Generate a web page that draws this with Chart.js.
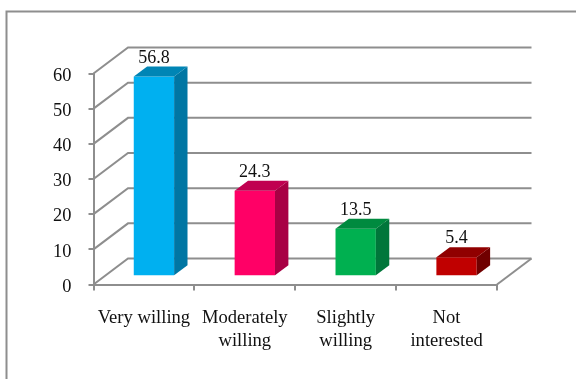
<!DOCTYPE html>
<html><head><meta charset="utf-8">
<style>html,body{margin:0;padding:0;background:#fff}#w{width:576px;height:379px;position:relative}</style>
<script src="https://cdn.jsdelivr.net/npm/chart.js@4"></script>
</head><body><div id="w"><canvas id="c" width="576" height="379"></canvas></div>
<script>
const categories = [["Very willing"], ["Moderately", "willing"], ["Slightly", "willing"], ["Not", "interested"]];
const values = [56.8, 24.3, 13.5, 5.4];
const frontColors = ["#00B0F0", "#FF0066", "#00B050", "#C00000"];
const sideColors = ["#0076A3", "#A80044", "#00763A", "#700000"];
const topColors = ["#0085B5", "#C00050", "#008A3F", "#900000"];
const yMax = 60, yStep = 10;

const GRID = "#8e8e8e", FONT = "'Liberation Serif', 'Times New Roman', serif";
const wall = {dx: 34.5, dy: -26};      // depth of the floor/walls
const bar = {dx: 10, dy: -8.3, sx: 13.4, sy: -10}; // bar placement inside the depth

function line(ctx, pts, w) {
  ctx.beginPath();
  pts.forEach((p, i) => i ? ctx.lineTo(p[0], p[1]) : ctx.moveTo(p[0], p[1]));
  ctx.lineWidth = w; ctx.strokeStyle = GRID; ctx.stroke();
}
function face(ctx, pts, col) {
  ctx.beginPath();
  pts.forEach((p, i) => i ? ctx.lineTo(p[0], p[1]) : ctx.moveTo(p[0], p[1]));
  ctx.closePath(); ctx.fillStyle = col; ctx.fill();
}
const scene = {
  id: "scene",
  beforeDraw(ch) {
    const c = ch.ctx; c.save();
    c.fillStyle = "#fff"; c.fillRect(0, 0, ch.width, ch.height);
    line(c, [[6.5, ch.height + 2], [6.5, 11.5], [ch.width + 2, 11.5]], 2);
    c.restore();
  },
  beforeDatasetsDraw(ch) {
    const c = ch.ctx, a = ch.chartArea, y = ch.scales.y;
    c.save();
    y.ticks.forEach(t => {
      const py = y.getPixelForValue(t.value);
      line(c, [[a.left, py], [a.left + wall.dx, py + wall.dy], [a.right + wall.dx, py + wall.dy]], 2);
    });
    line(c, [[a.right, a.bottom], [a.right + wall.dx, a.bottom + wall.dy]], 2);
    c.restore();
  },
  beforeDatasetDraw(ch) { ch.ctx.save(); ch.ctx.translate(bar.dx, bar.dy); },
  afterDatasetDraw(ch, args) {
    const c = ch.ctx;
    args.meta.data.forEach((el, i) => {
      const p = el.getProps(["x", "y", "base", "width"], true);
      const L = p.x - p.width / 2, R = p.x + p.width / 2, T = p.y, B = p.base;
      face(c, [[R, T], [R + bar.sx, T + bar.sy], [R + bar.sx, B + bar.sy], [R, B]], sideColors[i]);
      face(c, [[L, T], [L + bar.sx, T + bar.sy], [R + bar.sx, T + bar.sy], [R, T]], topColors[i]);
      c.fillStyle = "#111"; c.font = "18px " + FONT;
      c.textAlign = "center"; c.textBaseline = "middle";
      c.fillText(values[i].toFixed(1), p.x, T + bar.sy - 8.5);
    });
    c.restore();
  }
};
new Chart(document.getElementById("c"), {
  type: "bar",
  data: { labels: categories, datasets: [{ data: values, backgroundColor: frontColors, borderWidth: 0,
    barPercentage: 1, categoryPercentage: 0.4, clip: false }] },
  plugins: [scene],
  options: {
    responsive: false, animation: false,
    layout: { padding: { top: 73.5, right: 79, left: 0, bottom: 0 } },
    plugins: { legend: { display: false }, title: { display: false }, tooltip: { enabled: false } },
    scales: {
      x: {
        afterFit(s) { s.height = 94.5; },
        grid: { drawOnChartArea: false, color: GRID, lineWidth: 2, tickLength: 6, offset: true },
        border: { color: GRID, width: 2 },
        ticks: { color: "#111", font: { family: FONT, size: 18.6, lineHeight: 1.19 }, padding: 17, maxRotation: 0, autoSkip: false }
      },
      y: {
        min: 0, max: yMax,
        afterFit(s) { s.width = 93.5; },
        grid: { drawOnChartArea: false, color: GRID, lineWidth: 2, tickLength: 5 },
        border: { color: GRID, width: 2 },
        ticks: { stepSize: yStep, color: "#111", font: { family: FONT, size: 18.4 }, padding: 17, labelOffset: 2.5 }
      }
    }
  }
});
</script></body></html>
